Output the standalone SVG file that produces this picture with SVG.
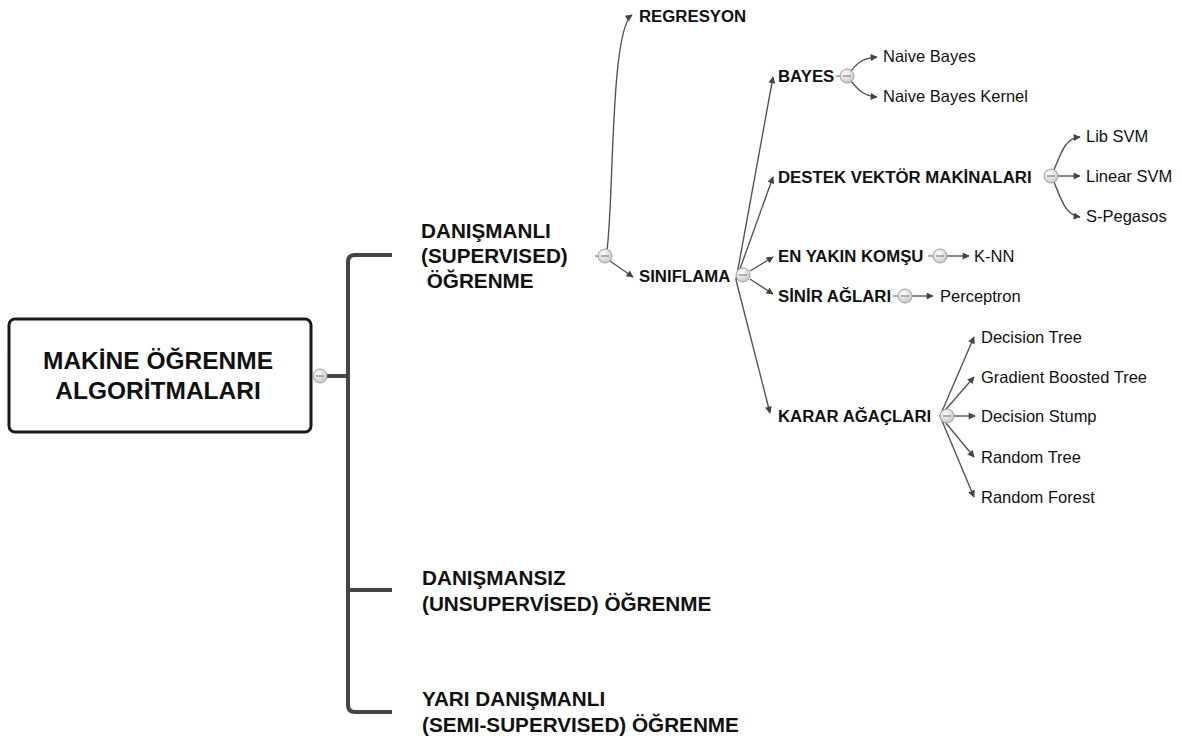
<svg xmlns="http://www.w3.org/2000/svg" width="1182" height="738" viewBox="0 0 1182 738">
  <style>
    .root { font-family: "Liberation Sans", Arial, sans-serif; font-weight: bold; font-size: 24.5px; fill: #111; }
    .l1 { font-family: "Liberation Sans", Arial, sans-serif; font-weight: bold; font-size: 20.7px; fill: #111; }
    .l2 { font-family: "Liberation Sans", Arial, sans-serif; font-weight: bold; font-size: 16.8px; fill: #111; }
    .leaf { font-family: "Liberation Sans", Arial, sans-serif; font-size: 16.5px; fill: #111; }
    .trunk { fill: none; stroke: #444; stroke-width: 4; stroke-linejoin: round; }
    .edge { fill: none; stroke: #555; stroke-width: 1.4; marker-end: url(#arr); }
    .stub { fill: none; stroke: #777; stroke-width: 1.2; }
    .knob circle { fill: url(#knobFill); stroke: #a0a0a0; stroke-width: 1; }
    .knob line { stroke: #8a8a8a; stroke-width: 1.3; }
  </style>
  <defs>
    <marker id="arr" viewBox="0 0 10 10" refX="9" refY="5" markerWidth="9" markerHeight="7" markerUnits="userSpaceOnUse" orient="auto">
      <path d="M0,0 L10,5 L0,10 z" fill="#444"/>
    </marker>
    <radialGradient id="knobFill" cx="0.4" cy="0.35" r="0.7">
      <stop offset="0" stop-color="#ffffff"/>
      <stop offset="1" stop-color="#c4c4c4"/>
    </radialGradient>
    <g id="knob" class="knob">
      <circle cx="0" cy="0" r="7"/>
      <line x1="-4" y1="0" x2="4" y2="0"/>
    </g>
  </defs>

  <!-- connectors -->
  <g id="connectors">
    <!-- root bracket -->
    <path class="trunk" d="M327,376 H347"/>
    <path class="trunk" d="M392,255 H355 Q348,255 348,262 V705 Q348,712 355,712 H392"/>
    <path class="trunk" d="M348,590 H392"/>

    <!-- supervised branch -->
    <path class="stub" d="M595,256 H598"/>
    <path class="edge" d="M607,250 C614,200 610,30 632,15"/>
    <path class="edge" d="M610,261 L633,277"/>

    <!-- classification fan -->
    <path class="edge" d="M736,280 L773,77"/>
    <path class="edge" d="M736,280 L773,177"/>
    <path class="edge" d="M750,271 L773,257"/>
    <path class="edge" d="M750,279 L773,294"/>
    <path class="edge" d="M736,280 L770,413"/>

    <!-- bayes -->
    <path class="stub" d="M836,76 H840"/>
    <path class="edge" d="M851,71 C858,62 864,58 877,57"/>
    <path class="edge" d="M851,81 C858,90 864,96 877,97"/>

    <!-- svm -->
    <path class="edge" d="M1054,170 C1062,150 1066,138 1080,137"/>
    <path class="edge" d="M1058,176 L1080,176"/>
    <path class="edge" d="M1054,182 C1062,202 1066,215 1080,217"/>

    <!-- knn / neural -->
    <path class="stub" d="M928,256 H933"/>
    <path class="edge" d="M947,256 L969,256"/>
    <path class="stub" d="M893,296 H898"/>
    <path class="edge" d="M912,296 L933,296"/>

    <!-- decision trees -->
    <path class="edge" d="M940,416 L974,337"/>
    <path class="edge" d="M940,416 L974,377"/>
    <path class="edge" d="M954,416 L975,416"/>
    <path class="edge" d="M940,416 L974,457"/>
    <path class="edge" d="M940,416 L974,497"/>
  </g>

  <!-- root node -->
  <g id="node-root">
    <rect x="9" y="319" width="302" height="113" rx="6" ry="6" fill="#fff" stroke="#1a1a1a" stroke-width="3"/>
    <text class="root" x="158" y="369" text-anchor="middle">MAKİNE ÖĞRENME</text>
    <text class="root" x="158" y="399" text-anchor="middle">ALGORİTMALARI</text>
    <use href="#knob" x="320" y="376"/>
  </g>

  <g id="node-supervised">
    <text class="l1" x="421" y="238">DANIŞMANLI</text>
    <text class="l1" x="421" y="263">(SUPERVISED)</text>
    <text class="l1" x="421" y="288" xml:space="preserve"> ÖĞRENME</text>
    <use href="#knob" x="605" y="256"/>
  </g>

  <g id="node-unsupervised">
    <text class="l1" x="422" y="585">DANIŞMANSIZ</text>
    <text class="l1" x="422" y="611">(UNSUPERVİSED) ÖĞRENME</text>
  </g>

  <g id="node-semisupervised">
    <text class="l1" x="422" y="706">YARI DANIŞMANLI</text>
    <text class="l1" x="422" y="732">(SEMI-SUPERVISED) ÖĞRENME</text>
  </g>

  <g id="node-regresyon">
    <text class="l2" x="639" y="22">REGRESYON</text>
  </g>

  <g id="node-siniflama">
    <text class="l2" x="639" y="282">SINIFLAMA</text>
    <use href="#knob" x="743" y="275"/>
  </g>

  <g id="node-bayes">
    <text class="l2" x="778" y="82">BAYES</text>
    <use href="#knob" x="847" y="76"/>
  </g>
  <g id="node-naive-bayes"><text class="leaf" x="883" y="62">Naive Bayes</text></g>
  <g id="node-naive-bayes-kernel"><text class="leaf" x="883" y="102">Naive Bayes Kernel</text></g>

  <g id="node-svm">
    <text class="l2" x="778" y="183">DESTEK VEKTÖR MAKİNALARI</text>
    <use href="#knob" x="1051" y="176"/>
  </g>
  <g id="node-lib-svm"><text class="leaf" x="1086" y="142">Lib SVM</text></g>
  <g id="node-linear-svm"><text class="leaf" x="1086" y="182">Linear SVM</text></g>
  <g id="node-s-pegasos"><text class="leaf" x="1086" y="222">S-Pegasos</text></g>

  <g id="node-knn-group">
    <text class="l2" x="778" y="262">EN YAKIN KOMŞU</text>
    <use href="#knob" x="940" y="256"/>
  </g>
  <g id="node-knn"><text class="leaf" x="974" y="262">K-NN</text></g>

  <g id="node-neural">
    <text class="l2" x="778" y="302">SİNİR AĞLARI</text>
    <use href="#knob" x="905" y="296"/>
  </g>
  <g id="node-perceptron"><text class="leaf" x="940" y="302">Perceptron</text></g>

  <g id="node-trees">
    <text class="l2" x="778" y="422">KARAR AĞAÇLARI</text>
    <use href="#knob" x="947" y="416"/>
  </g>
  <g id="node-decision-tree"><text class="leaf" x="981" y="343">Decision Tree</text></g>
  <g id="node-gbt"><text class="leaf" x="981" y="383">Gradient Boosted Tree</text></g>
  <g id="node-decision-stump"><text class="leaf" x="981" y="422">Decision Stump</text></g>
  <g id="node-random-tree"><text class="leaf" x="981" y="463">Random Tree</text></g>
  <g id="node-random-forest"><text class="leaf" x="981" y="503">Random Forest</text></g>
</svg>
